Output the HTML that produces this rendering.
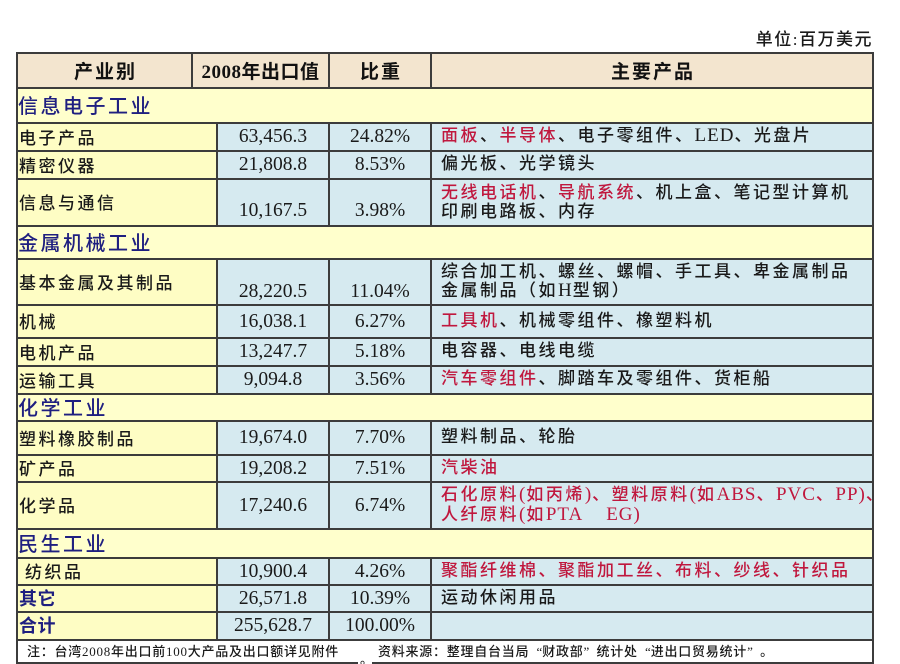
<!DOCTYPE html>
<html><head><meta charset="utf-8">
<style>
*{margin:0;padding:0;box-sizing:border-box}
body{width:900px;height:664px;background:#fff;position:relative;overflow:hidden;font-family:"Liberation Serif","Noto Sans CJK SC",serif;color:#1a1a1a}
.bg{position:absolute}
.h{position:absolute;left:17px;width:857px;height:2px;background:#3c3c3c}
.v{position:absolute;width:2px;background:#3c3c3c}
.t{position:absolute;display:flex;align-items:center;white-space:nowrap;overflow:hidden}
.c{justify-content:center}
.hd{font-weight:bold;font-size:19px;letter-spacing:2px;color:#111}
.sec{font-family:"Liberation Serif","Noto Sans CJK SC",sans-serif;font-size:20px;letter-spacing:2.5px;color:#1f1f80;font-weight:500}
.c1{font-family:"Liberation Serif","Noto Sans CJK SC",sans-serif;font-size:17px;letter-spacing:2.5px;color:#1a1a1a;font-weight:500}
.num{font-size:19.5px;color:#1a1a1a}
.pr{font-family:"Liberation Serif","Noto Sans CJK SC",sans-serif;font-size:17px;letter-spacing:2.5px;line-height:19.5px;color:#1a1a1a;font-weight:500}
.r{color:#c0183e}
.L{font-size:19px;letter-spacing:1px;font-weight:normal}
.bn{font-family:"Liberation Serif","Noto Sans CJK SC",sans-serif;font-weight:bold;font-size:18px;letter-spacing:0.5px;color:#1f1f80}
.note{font-family:"Liberation Serif","Noto Sans CJK SC",sans-serif;font-size:13px;letter-spacing:0.75px;color:#1a1a1a;font-weight:500}
.qo{display:inline-block;width:13px;text-align:right;letter-spacing:0}
.qc{display:inline-block;width:13px;text-align:left;letter-spacing:0}
</style></head><body>

<!-- unit -->
<div class="t" style="left:700px;top:26px;width:173px;height:22px;justify-content:flex-end;font-family:'Liberation Serif','Noto Sans CJK SC',sans-serif;font-size:17px;letter-spacing:1.5px;color:#1a1a1a;font-weight:500">单位:百万美元</div>

<!-- backgrounds -->
<div class="bg" style="left:17px;top:53px;width:856px;height:35px;background:#f3e5cf"></div>
<div class="bg" style="left:17px;top:88px;width:856px;height:35px;background:#ffffcc"></div>
<div class="bg" style="left:17px;top:123px;width:200px;height:103px;background:#fefdc4"></div>
<div class="bg" style="left:217px;top:123px;width:656px;height:103px;background:#d6eaf0"></div>
<div class="bg" style="left:17px;top:226px;width:856px;height:33px;background:#ffffcc"></div>
<div class="bg" style="left:17px;top:259px;width:200px;height:135px;background:#fefdc4"></div>
<div class="bg" style="left:217px;top:259px;width:656px;height:135px;background:#d6eaf0"></div>
<div class="bg" style="left:17px;top:394px;width:856px;height:27px;background:#ffffcc"></div>
<div class="bg" style="left:17px;top:421px;width:200px;height:108px;background:#fefdc4"></div>
<div class="bg" style="left:217px;top:421px;width:656px;height:108px;background:#d6eaf0"></div>
<div class="bg" style="left:17px;top:529px;width:856px;height:29px;background:#ffffcc"></div>
<div class="bg" style="left:17px;top:558px;width:200px;height:82px;background:#fefdc4"></div>
<div class="bg" style="left:217px;top:558px;width:656px;height:82px;background:#d6eaf0"></div>
<div class="bg" style="left:17px;top:640px;width:856px;height:23px;background:#fff"></div>

<!-- horizontal lines -->
<div class="h" style="top:52px"></div>
<div class="h" style="top:87px"></div>
<div class="h" style="top:122px"></div>
<div class="h" style="top:150px"></div>
<div class="h" style="top:178px"></div>
<div class="h" style="top:225px"></div>
<div class="h" style="top:258px"></div>
<div class="h" style="top:304px"></div>
<div class="h" style="top:337px"></div>
<div class="h" style="top:365px"></div>
<div class="h" style="top:393px"></div>
<div class="h" style="top:420px"></div>
<div class="h" style="top:454px"></div>
<div class="h" style="top:481px"></div>
<div class="h" style="top:528px"></div>
<div class="h" style="top:557px"></div>
<div class="h" style="top:584px"></div>
<div class="h" style="top:611px"></div>
<div class="h" style="top:639px"></div>
<div class="h" style="top:662px"></div>

<!-- vertical lines -->
<div class="v" style="left:16px;top:52px;height:612px"></div>
<div class="v" style="left:872px;top:52px;height:612px"></div>
<div class="v" style="left:191px;top:52px;height:36px"></div>
<div class="v" style="left:328px;top:52px;height:36px"></div>
<div class="v" style="left:430px;top:52px;height:36px"></div>

<div class="v" style="left:216px;top:122px;height:104px"></div>
<div class="v" style="left:328px;top:122px;height:104px"></div>
<div class="v" style="left:430px;top:122px;height:104px"></div>

<div class="v" style="left:216px;top:258px;height:136px"></div>
<div class="v" style="left:328px;top:258px;height:136px"></div>
<div class="v" style="left:430px;top:258px;height:136px"></div>

<div class="v" style="left:216px;top:420px;height:109px"></div>
<div class="v" style="left:328px;top:420px;height:109px"></div>
<div class="v" style="left:430px;top:420px;height:109px"></div>

<div class="v" style="left:216px;top:557px;height:83px"></div>
<div class="v" style="left:328px;top:557px;height:83px"></div>
<div class="v" style="left:430px;top:557px;height:83px"></div>

<!-- header -->
<div class="t c hd" style="left:17px;top:53px;width:175px;height:35px;padding-left:2px">产业别</div>
<div class="t c hd" style="left:192px;top:53px;width:137px;height:35px;letter-spacing:0.5px">2008年出口值</div>
<div class="t c hd" style="left:329px;top:53px;width:102px;height:35px;padding-left:2px">比重</div>
<div class="t c hd" style="left:431px;top:53px;width:442px;height:35px;padding-left:2px">主要产品</div>

<!-- section 1 -->
<div class="t sec" style="left:18px;top:87px;width:400px;height:35px">信息电子工业</div>

<div class="t c1" style="left:19px;top:122px;width:198px;height:28px">电子产品</div>
<div class="t c num" style="left:217px;top:123px;width:112px;height:28px">63,456.3</div>
<div class="t c num" style="left:329px;top:123px;width:102px;height:28px">24.82%</div>
<div class="t pr" style="left:441px;top:122px;width:431px;height:28px"><span><span class="r">面板</span>、<span class="r">半导体</span>、电子零组件、<span class="L">LED</span>、光盘片</span></div>

<div class="t c1" style="left:19px;top:150px;width:198px;height:28px">精密仪器</div>
<div class="t c num" style="left:217px;top:151px;width:112px;height:28px">21,808.8</div>
<div class="t c num" style="left:329px;top:151px;width:102px;height:28px">8.53%</div>
<div class="t pr" style="left:441px;top:150px;width:431px;height:28px">偏光板、光学镜头</div>

<div class="t c1" style="left:19px;top:178px;width:198px;height:47px">信息与通信</div>
<div class="t c num" style="left:217px;top:201px;width:112px;height:20px">10,167.5</div>
<div class="t c num" style="left:329px;top:201px;width:102px;height:20px">3.98%</div>
<div class="t pr" style="left:441px;top:179px;width:431px;height:46px"><div><span class="r">无线电话机</span>、<span class="r">导航系统</span>、机上盒、笔记型计算机<br>印刷电路板、内存</div></div>

<!-- section 2 -->
<div class="t sec" style="left:18px;top:225px;width:400px;height:33px">金属机械工业</div>

<div class="t c1" style="left:19px;top:258px;width:198px;height:46px">基本金属及其制品</div>
<div class="t c num" style="left:217px;top:282px;width:112px;height:20px">28,220.5</div>
<div class="t c num" style="left:329px;top:282px;width:102px;height:20px">11.04%</div>
<div class="t pr" style="left:441px;top:258px;width:431px;height:46px"><div>综合加工机、螺丝、螺帽、手工具、卑金属制品<br>金属制品（如<span class="L">H</span>型钢）</div></div>

<div class="t c1" style="left:19px;top:304px;width:198px;height:33px">机械</div>
<div class="t c num" style="left:217px;top:305px;width:112px;height:33px">16,038.1</div>
<div class="t c num" style="left:329px;top:305px;width:102px;height:33px">6.27%</div>
<div class="t pr" style="left:441px;top:304px;width:431px;height:33px"><span><span class="r">工具机</span>、机械零组件、橡塑料机</span></div>

<div class="t c1" style="left:19px;top:337px;width:198px;height:28px">电机产品</div>
<div class="t c num" style="left:217px;top:338px;width:112px;height:28px">13,247.7</div>
<div class="t c num" style="left:329px;top:338px;width:102px;height:28px">5.18%</div>
<div class="t pr" style="left:441px;top:337px;width:431px;height:28px">电容器、电线电缆</div>

<div class="t c1" style="left:19px;top:365px;width:198px;height:28px">运输工具</div>
<div class="t c num" style="left:217px;top:366px;width:112px;height:28px">9,094.8</div>
<div class="t c num" style="left:329px;top:366px;width:102px;height:28px">3.56%</div>
<div class="t pr" style="left:441px;top:365px;width:431px;height:28px"><span><span class="r">汽车零组件</span>、脚踏车及零组件、货柜船</span></div>

<!-- section 3 -->
<div class="t sec" style="left:18px;top:393px;width:400px;height:27px">化学工业</div>

<div class="t c1" style="left:19px;top:420px;width:198px;height:34px">塑料橡胶制品</div>
<div class="t c num" style="left:217px;top:421px;width:112px;height:34px">19,674.0</div>
<div class="t c num" style="left:329px;top:421px;width:102px;height:34px">7.70%</div>
<div class="t pr" style="left:441px;top:420px;width:431px;height:34px">塑料制品、轮胎</div>

<div class="t c1" style="left:19px;top:454px;width:198px;height:27px">矿产品</div>
<div class="t c num" style="left:217px;top:455px;width:112px;height:27px">19,208.2</div>
<div class="t c num" style="left:329px;top:455px;width:102px;height:27px">7.51%</div>
<div class="t pr r" style="left:441px;top:454px;width:431px;height:27px">汽柴油</div>

<div class="t c1" style="left:19px;top:481px;width:198px;height:47px">化学品</div>
<div class="t c num" style="left:217px;top:482px;width:112px;height:47px">17,240.6</div>
<div class="t c num" style="left:329px;top:482px;width:102px;height:47px">6.74%</div>
<div class="t pr r" style="left:441px;top:481px;width:431px;height:47px"><div>石化原料<span class="L">(</span>如丙烯<span class="L">)</span>、塑料原料<span class="L">(</span>如<span class="L">ABS</span>、<span class="L">PVC</span>、<span class="L">PP)</span>、<br>人纤原料<span class="L">(</span>如<span class="L">PTA&nbsp;&nbsp;&nbsp;&nbsp;EG)</span></div></div>

<!-- section 4 -->
<div class="t sec" style="left:18px;top:528px;width:400px;height:29px">民生工业</div>

<div class="t c1" style="left:25px;top:557px;width:192px;height:27px">纺织品</div>
<div class="t c num" style="left:217px;top:558px;width:112px;height:27px">10,900.4</div>
<div class="t c num" style="left:329px;top:558px;width:102px;height:27px">4.26%</div>
<div class="t pr r" style="left:441px;top:557px;width:431px;height:27px">聚酯纤维棉、聚酯加工丝、布料、纱线、针织品</div>

<div class="t bn" style="left:19px;top:584px;width:198px;height:27px">其它</div>
<div class="t c num" style="left:217px;top:585px;width:112px;height:27px">26,571.8</div>
<div class="t c num" style="left:329px;top:585px;width:102px;height:27px">10.39%</div>
<div class="t pr" style="left:441px;top:584px;width:431px;height:27px">运动休闲用品</div>

<div class="t bn" style="left:19px;top:611px;width:198px;height:28px">合计</div>
<div class="t c num" style="left:217px;top:612px;width:112px;height:28px">255,628.7</div>
<div class="t c num" style="left:329px;top:612px;width:102px;height:28px">100.00%</div>

<!-- note -->
<div class="t note" style="left:27px;top:640px;width:340px;height:21px">注：台湾2008年出口前100大产品及出口额详见附件</div>
<div class="bg" style="left:358px;top:660px;width:14px;height:4px;background:#fff"></div>
<div class="t note" style="left:360px;top:652px;width:14px;height:12px">。</div>
<div class="t note" style="left:378px;top:640px;width:494px;height:21px"><span>资料来源：整理自台当局<span class="qo">“</span>财政部<span class="qc">”</span>统计处<span class="qo">“</span>进出口贸易统计<span class="qc">”</span>。</span></div>

</body></html>
